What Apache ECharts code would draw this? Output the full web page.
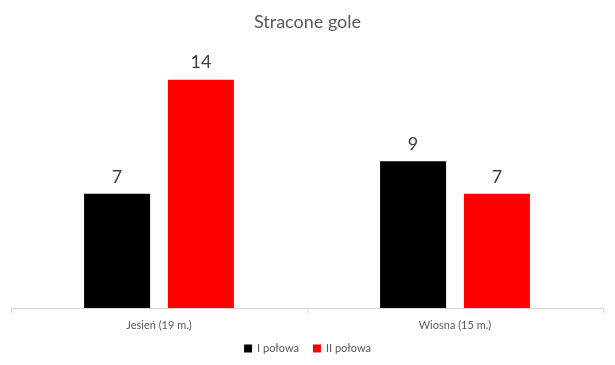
<!DOCTYPE html>
<html><head><meta charset="utf-8">
<script src="https://cdn.jsdelivr.net/npm/echarts@6/dist/echarts.min.js"></script>
<style>html,body{margin:0;padding:0;background:#fff}#c{width:615px;height:365px}</style>
</head><body><div id="c"></div>
<script>
const categories = ['Jesień (19 m.)', 'Wiosna (15 m.)'];
const firstHalf = [7, 9];
const secondHalf = [14, 7];
const seriesNames = ['I połowa', 'II połowa'];

const chart = echarts.init(document.getElementById('c'), null, {renderer: 'canvas'});
const font = 'Lato, "Open Sans", sans-serif';
const labelCfg = {show: true, position: 'top', distance: 8, color: '#404040', fontSize: 18, fontFamily: font};
chart.setOption({
  animation: false,
  title: {text: 'Stracone gole', left: 'center', top: 8,
    textStyle: {fontSize: 18, fontWeight: 'normal', color: '#595959', fontFamily: font}},
  legend: {bottom: 6, left: 'center', itemWidth: 8, itemHeight: 8, itemGap: 14,
    icon: 'rect', textStyle: {fontSize: 11, color: '#595959', fontFamily: font}, data: seriesNames},
  grid: {left: 11, right: 12, top: 47, bottom: 57, containLabel: false},
  xAxis: {type: 'category', data: categories,
    axisLine: {lineStyle: {color: '#d9d9d9'}},
    axisTick: {show: true, length: 5, lineStyle: {color: '#d9d9d9'}},
    axisLabel: {color: '#595959', fontSize: 11, fontFamily: font, margin: 12}},
  yAxis: {type: 'value', min: 0, max: 16, show: false},
  series: [
    {name: seriesNames[0], type: 'bar', data: firstHalf, barWidth: '22.3%', barGap: '27%',
      itemStyle: {color: '#000000'}, label: labelCfg},
    {name: seriesNames[1], type: 'bar', data: secondHalf, barWidth: '22.3%',
      itemStyle: {color: '#ff0000'}, label: labelCfg}
  ]
});
</script></body></html>
